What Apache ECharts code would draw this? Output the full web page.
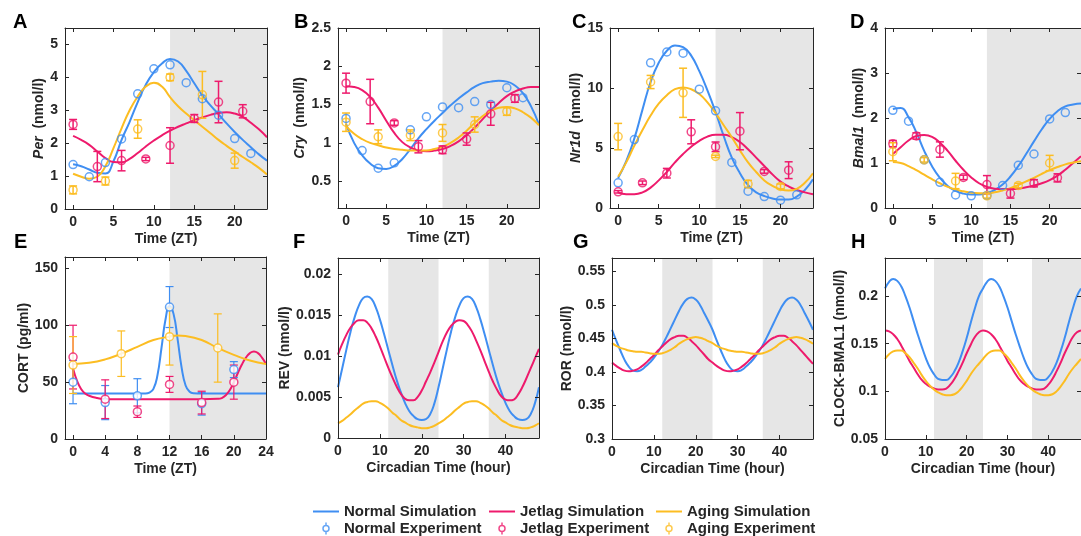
<!DOCTYPE html>
<html><head><meta charset="utf-8">
<script src="https://cdn.jsdelivr.net/npm/echarts@6/dist/echarts.min.js"></script>
<style>html,body{margin:0;padding:0;background:#fff}#chart{width:1081px;height:536px}</style>
</head><body><div id="chart"></div>
<script>
// ---------- DATA ----------
const ztHours = [0,1,2,3,4,5,6,7,8,9,10,11,12,13,14,15,16,17,18,19,20,21,22,23,24];
const ctHours = [0,1,2,3,4,5,6,7,8,9,10,11,12,13,14,15,16,17,18,19,20,21,22,23,24,25,26,27,28,29,30,31,32,33,34,35,36,37,38,39,40,41,42,43,44,45,46,47,48];

const ztTicks = [0,5,10,15,20];
const cortXTicks = [0,4,8,12,16,20,24];
const ctTicks = [0,10,20,30,40];
const perYTicks = [0,1,2,3,4,5];
const cryYTicks = [0.5,1,1.5,2,2.5];
const nr1dYTicks = [0,5,10,15];
const bmalYTicks = [0,1,2,3,4];
const cortYTicks = [0,50,100,150];
const revYTicks = [0,0.005,0.01,0.015,0.02];
const rorYTicks = [0.3,0.35,0.4,0.45,0.5,0.55];
const clockYTicks = [0.05,0.1,0.15,0.2];

// A: Per
const perNormalSim = [1.36,1.3,1.2,1.1,1.08,1.45,2.1,2.65,3.25,3.78,4.16,4.42,4.56,4.48,4.2,3.82,3.45,3.15,2.88,2.6,2.34,2.1,1.88,1.66,1.47];
const perJetlagSim = [2.22,2.1,1.95,1.75,1.55,1.43,1.42,1.52,1.7,1.9,2.08,2.24,2.38,2.5,2.6,2.7,2.78,2.86,2.92,2.94,2.9,2.8,2.62,2.42,2.18];
const perAgingSim  = [1.07,0.98,0.92,0.98,1.3,1.85,2.45,3.0,3.42,3.72,3.84,3.72,3.4,3.12,2.9,2.7,2.5,2.3,2.1,1.92,1.75,1.58,1.42,1.25,1.05];
const perNormalExp = [[0,1.35],[2,0.98],[4,1.41],[6,2.13],[8,3.5],[10,4.26],[12,4.38],[14,3.84],[16,3.35],[18,2.85],[20,2.14],[22,1.69]];
const perJetlagExp = [[0,2.57,0.15],[3,1.29,0.46],[6,1.47,0.31],[9,1.52,0.05],[12,1.93,0.54],[15,2.75,0.12],[18,3.25,0.63],[21,2.97,0.2]];
const perAgingExp  = [[0,0.58,0.12],[4,0.85,0.12],[8,2.43,0.28],[12,4.0,0.1],[16,3.47,0.71],[20,1.47,0.23]];

// B: Cry
const cryNormalSim = [1.25,1.0,0.84,0.73,0.67,0.66,0.7,0.79,0.92,1.06,1.18,1.29,1.39,1.49,1.58,1.66,1.73,1.78,1.8,1.81,1.8,1.75,1.65,1.48,1.24];
const cryJetlagSim = [1.74,1.73,1.69,1.6,1.46,1.29,1.13,1.01,0.94,0.9,0.89,0.9,0.92,0.96,1.02,1.1,1.2,1.31,1.42,1.52,1.61,1.67,1.71,1.73,1.73];
const cryAgingSim  = [1.22,1.12,1.05,1.0,0.97,0.94,0.92,0.91,0.9,0.9,0.9,0.92,0.95,1.0,1.07,1.16,1.26,1.35,1.42,1.46,1.47,1.45,1.4,1.33,1.23];
const cryNormalExp = [[0,1.32],[2,0.9],[4,0.67],[6,0.74],[8,1.17],[10,1.34],[12,1.47],[14,1.46],[16,1.54],[18,1.5],[20,1.72],[22,1.59]];
const cryJetlagExp = [[0,1.78,0.13],[3,1.54,0.29],[6,1.26,0.03],[9,0.95,0.08],[12,0.91,0.05],[15,1.05,0.08],[18,1.38,0.15],[21,1.58,0.05]];
const cryAgingExp  = [[0,1.27,0.12],[4,1.08,0.09],[8,1.1,0.07],[12,1.13,0.11],[16,1.24,0.1],[20,1.41,0.05]];

// C: Nr1d
const nr1dNormalSim = [2.5,3.9,5.8,8.2,10.5,12.1,13.1,13.55,13.4,12.7,11.4,9.8,8.0,6.0,4.2,2.9,1.9,1.3,1.0,0.8,0.7,0.7,0.95,1.5,2.4];
const nr1dJetlagSim = [1.3,1.15,1.15,1.3,1.7,2.3,3.0,3.8,4.5,5.1,5.6,5.95,6.1,6.1,5.9,5.5,4.9,4.2,3.5,2.8,2.2,1.8,1.5,1.3,1.15];
const nr1dAgingSim  = [2.6,3.8,5.2,6.5,7.7,8.7,9.4,9.9,10.05,9.9,9.5,8.8,7.9,6.9,5.9,4.8,3.8,3.0,2.3,1.85,1.55,1.45,1.6,2.1,2.9];
const nr1dNormalExp = [[0,2.1],[2,5.7],[4,12.1],[6,13.0],[8,12.9],[10,9.9],[12,8.1],[14,3.8],[16,1.4],[18,0.95],[20,0.65],[22,1.1]];
const nr1dJetlagExp = [[0,1.35,0.1],[3,2.1,0.15],[6,2.9,0.4],[9,6.35,1.0],[12,5.1,0.4],[15,6.4,1.55],[18,3.05,0.15],[21,3.15,0.7]];
const nr1dAgingExp  = [[0,5.95,1.1],[4,10.5,0.55],[8,9.6,2.05],[12,4.3,0.1],[16,2.0,0.3],[20,1.8,0.2]];

// D: Bmal1
const bmalNormalSim = [2.2,2.22,2.02,1.68,1.27,0.93,0.67,0.49,0.38,0.32,0.3,0.3,0.33,0.4,0.52,0.7,0.93,1.2,1.48,1.75,1.98,2.15,2.26,2.3,2.32];
const bmalJetlagSim = [1.2,1.35,1.5,1.6,1.62,1.58,1.45,1.27,1.05,0.85,0.68,0.55,0.47,0.43,0.42,0.42,0.43,0.46,0.5,0.55,0.62,0.72,0.85,1.0,1.15];
const bmalAgingSim  = [1.02,1.0,0.93,0.84,0.74,0.64,0.55,0.47,0.41,0.37,0.34,0.33,0.33,0.35,0.39,0.44,0.51,0.59,0.67,0.76,0.84,0.91,0.97,1.01,1.04];
const bmalNormalExp = [[0,2.17],[2,1.93],[4,1.07],[6,0.57],[8,0.29],[10,0.27],[12,0.28],[14,0.5],[16,0.95],[18,1.2],[20,1.98],[22,2.12]];
const bmalJetlagExp = [[0,1.43,0.07],[3,1.6,0.07],[6,1.3,0.17],[9,0.68,0.05],[12,0.52,0.2],[15,0.32,0.1],[18,0.55,0.08],[21,0.67,0.09]];
const bmalAgingExp  = [[0,1.25,0.2],[4,1.07,0.05],[8,0.6,0.17],[12,0.27,0.05],[16,0.5,0.05],[20,1.0,0.17]];

// E: CORT
const cortNormalSim = [[0,40],[4,40],[8,40],[9,40],[9.5,40.8],[10,44],[10.5,56],[11,80],[11.5,105],[12,117],[12.5,110],[13,88],[13.5,63],[14,47],[14.5,41.5],[15,40.2],[16,40],[20,40],[24,40]];
const cortJetlagSim = [[0,62],[0.5,51],[1,44],[1.5,40],[2,38],[3,36],[4,35],[8,35],[12,35],[16,35],[18,35.3],[18.5,36],[19,38.5],[19.5,43],[20,50],[20.5,58],[21,65.5],[21.5,71.5],[22,75.5],[22.5,77],[23,75.5],[23.5,71.5],[24,66]];
const cortAgingSim  = [[0,66],[2,67],[4,70],[6,75],[8,81],[10,87],[12,90],[13,91],[14,90.5],[16,87],[18,80],[20,74],[22,69],[24,66]];
const cortNormalExp = [[0,50,19],[4,32,15],[8,38,15],[12,116,18],[16,31,10],[20,61,7]];
const cortJetlagExp = [[0,72,28],[4,35,17],[8,24,5],[12,48,7],[16,32,10],[20,50,15]];
const cortAgingExp  = [[0,65,25],[6,75,20],[12,90,25],[18,80,30]];

// F: REV
const revNormalSim = [0.0062,0.0085,0.0108,0.013,0.0148,0.0162,0.0171,0.0173,0.017,0.016,0.0145,0.0127,0.0108,0.0089,0.0071,0.0056,0.0043,0.0033,0.0027,0.0023,0.0022,0.0023,0.0029,0.0042,0.0062,
  0.0085,0.0108,0.013,0.0148,0.0162,0.0171,0.0173,0.017,0.016,0.0145,0.0127,0.0108,0.0089,0.0071,0.0056,0.0043,0.0033,0.0027,0.0023,0.0022,0.0023,0.0029,0.0042,0.0062];
const revJetlagSim = [0.0102,0.0115,0.0126,0.0135,0.0141,0.0144,0.0144,0.0141,0.0134,0.0124,0.0112,0.0099,0.0086,0.0074,0.0063,0.0054,0.0048,0.0046,0.0046,0.005,0.0058,0.0069,0.008,0.0092,0.0105,
  0.0118,0.0129,0.0137,0.0142,0.0144,0.0143,0.0138,0.013,0.0119,0.0107,0.0094,0.0081,0.0069,0.0059,0.0051,0.0047,0.0046,0.0047,0.0053,0.0062,0.0073,0.0085,0.0097,0.0109];
const revAgingSim = [0.0018,0.0021,0.0025,0.0029,0.0034,0.0038,0.0042,0.0044,0.0045,0.0045,0.0043,0.004,0.0036,0.0031,0.0027,0.0022,0.0019,0.0016,0.0014,0.0013,0.0012,0.0012,0.0013,0.0015,0.0018,
  0.0021,0.0025,0.0029,0.0034,0.0038,0.0042,0.0044,0.0045,0.0045,0.0043,0.004,0.0036,0.0031,0.0027,0.0022,0.0019,0.0016,0.0014,0.0013,0.0012,0.0012,0.0013,0.0015,0.0018];

// G: ROR
const rorNormalSim = [0.463,0.447,0.432,0.418,0.408,0.402,0.401,0.403,0.408,0.414,0.421,0.43,0.44,0.452,0.465,0.478,0.491,0.502,0.509,0.511,0.508,0.5,0.488,0.476,0.463,
  0.447,0.432,0.418,0.408,0.402,0.401,0.403,0.408,0.414,0.421,0.43,0.44,0.452,0.465,0.478,0.491,0.502,0.509,0.511,0.508,0.5,0.488,0.476,0.463];
const rorJetlagSim = [0.414,0.409,0.405,0.402,0.401,0.402,0.404,0.408,0.413,0.419,0.425,0.432,0.438,0.444,0.449,0.452,0.454,0.454,0.451,0.446,0.44,0.433,0.426,0.419,0.414,
  0.409,0.405,0.402,0.401,0.402,0.404,0.408,0.413,0.419,0.425,0.432,0.438,0.444,0.449,0.452,0.454,0.454,0.451,0.446,0.44,0.433,0.426,0.419,0.412];
const rorAgingSim = [0.443,0.439,0.436,0.434,0.432,0.431,0.43,0.43,0.429,0.428,0.427,0.427,0.428,0.43,0.433,0.437,0.442,0.446,0.449,0.451,0.452,0.451,0.449,0.446,0.443,
  0.439,0.436,0.434,0.432,0.431,0.43,0.43,0.429,0.428,0.427,0.427,0.428,0.43,0.433,0.437,0.442,0.446,0.449,0.451,0.452,0.451,0.449,0.446,0.442];

// H: CLOCK-BMAL1
const clockNormalSim = [0.208,0.215,0.218,0.216,0.21,0.2,0.188,0.174,0.16,0.147,0.135,0.125,0.118,0.113,0.112,0.112,0.115,0.121,0.13,0.142,0.156,0.172,0.187,0.2,0.208,
  0.215,0.218,0.216,0.21,0.2,0.188,0.174,0.16,0.147,0.135,0.125,0.118,0.113,0.112,0.112,0.115,0.121,0.13,0.142,0.156,0.172,0.187,0.2,0.208];
const clockJetlagSim = [0.164,0.163,0.16,0.155,0.148,0.14,0.132,0.125,0.118,0.112,0.108,0.105,0.103,0.102,0.102,0.103,0.107,0.113,0.121,0.13,0.14,0.149,0.157,0.162,0.164,
  0.163,0.16,0.155,0.148,0.14,0.132,0.125,0.118,0.112,0.108,0.105,0.103,0.102,0.102,0.103,0.107,0.113,0.121,0.13,0.14,0.149,0.157,0.162,0.164];
const clockAgingSim = [0.134,0.139,0.142,0.143,0.143,0.14,0.136,0.13,0.124,0.117,0.111,0.106,0.102,0.099,0.097,0.096,0.096,0.097,0.1,0.105,0.111,0.118,0.124,0.129,0.134,
  0.139,0.142,0.143,0.143,0.14,0.136,0.13,0.124,0.117,0.111,0.106,0.102,0.099,0.097,0.096,0.096,0.097,0.1,0.105,0.111,0.118,0.124,0.129,0.134];

const darkPhaseDay = [[12,24]];
const darkPhaseTwoDays = [[12,24],[36,48]];

// ---------- STYLE / LAYOUT ----------
const FONT = '"Liberation Sans", Arial, Helvetica, sans-serif';
const INK = '#262626';
const COL = {Normal:'#3F8EF2', Jetlag:'#EE1A6C', Aging:'#FCBD22'};
const GROUPS = ['Normal','Jetlag','Aging'];

const pair = (xs, ys) => xs.map((x,k) => [x, ys[k]]);

const panels = [
  {L:'A', lx:13, ly:12, grid:{left:65, top:28, width:202, height:181}, xr:[-1,24], yr:[0,5.5], xt:ztTicks, yt:perYTicks, xName:'Time (ZT)', yName:'{i|Per}{n|  (nmol/l)}', yGap:16, shade:darkPhaseDay,
   sims:[pair(ztHours,perNormalSim),pair(ztHours,perJetlagSim),pair(ztHours,perAgingSim)], exps:[perNormalExp,perJetlagExp,perAgingExp]},
  {L:'B', lx:294, ly:12, grid:{left:338, top:28, width:201, height:180}, xr:[-1,24], yr:[0.15,2.5], xt:ztTicks, yt:cryYTicks, xName:'Time (ZT)', yName:'{i|Cry}{n|  (nmol/l)}', yGap:27, shade:darkPhaseDay,
   sims:[pair(ztHours,cryNormalSim),pair(ztHours,cryJetlagSim),pair(ztHours,cryAgingSim)], exps:[cryNormalExp,cryJetlagExp,cryAgingExp]},
  {L:'C', lx:572, ly:12, grid:{left:610, top:28, width:203, height:180}, xr:[-1,24], yr:[0,15], xt:ztTicks, yt:nr1dYTicks, xName:'Time (ZT)', yName:'{i|Nr1d}{n|  (nmol/l)}', yGap:21, shade:darkPhaseDay,
   sims:[pair(ztHours,nr1dNormalSim),pair(ztHours,nr1dJetlagSim),pair(ztHours,nr1dAgingSim)], exps:[nr1dNormalExp,nr1dJetlagExp,nr1dAgingExp]},
  {L:'D', lx:850, ly:12, grid:{left:885, top:28, width:200, height:180}, xr:[-1,24], yr:[0,4], xt:ztTicks, yt:bmalYTicks, xName:'Time (ZT)', yName:'{i|Bmal1}{n|  (nmol/l)}', yGap:14, shade:darkPhaseDay,
   sims:[pair(ztHours,bmalNormalSim),pair(ztHours,bmalJetlagSim),pair(ztHours,bmalAgingSim)], exps:[bmalNormalExp,bmalJetlagExp,bmalAgingExp]},
  {L:'E', lx:14, ly:232, grid:{left:65, top:257, width:201, height:182}, xr:[-1,24], yr:[0,160], xt:cortXTicks, yt:cortYTicks, xName:'Time (ZT)', yName:'{n|CORT (pg/ml)}', yGap:29, shade:darkPhaseDay, whiteFill:true,
   sims:[cortNormalSim,cortJetlagSim,cortAgingSim], exps:[cortNormalExp,cortJetlagExp,cortAgingExp]},
  {L:'F', lx:293, ly:232, grid:{left:338, top:258, width:201, height:180}, xr:[0,48], yr:[0,0.022], xt:ctTicks, yt:revYTicks, xName:'Circadian Time (hour)', yName:'{n|REV (nmol/l)}', yGap:42, shade:darkPhaseTwoDays,
   sims:[pair(ctHours,revNormalSim),pair(ctHours,revJetlagSim),pair(ctHours,revAgingSim)], exps:[]},
  {L:'G', lx:573, ly:232, grid:{left:612, top:258, width:201, height:181}, xr:[0,48], yr:[0.3,0.57], xt:ctTicks, yt:rorYTicks, xName:'Circadian Time (hour)', yName:'{n|ROR (nmol/l)}', yGap:35, shade:darkPhaseTwoDays,
   sims:[pair(ctHours,rorNormalSim),pair(ctHours,rorJetlagSim),pair(ctHours,rorAgingSim)], exps:[]},
  {L:'H', lx:851, ly:232, grid:{left:885, top:258, width:201, height:181}, xr:[0,48], yr:[0.05,0.24], xt:ctTicks, yt:clockYTicks, xName:'Circadian Time (hour)', yName:'{n|CLOCK-BMAL1 (nmol/l)}', yGap:33, shade:darkPhaseTwoDays,
   sims:[pair(ctHours,clockNormalSim),pair(ctHours,clockJetlagSim),pair(ctHours,clockAgingSim)], exps:[]}
];

const txt = (extra) => Object.assign({color:INK, fontFamily:FONT, fontWeight:'bold', fontSize:14}, extra || {});

function errRender(params, api) {
  const x = api.value(0), lo = api.value(1), hi = api.value(2);
  const a = api.coord([x, lo]), b = api.coord([x, hi]);
  const w = 4;
  const style = {stroke: api.visual('color'), lineWidth: params.seriesName.indexOf('cort') === 0 ? 1.2 : 1.5};
  return {type:'group', children:[
    {type:'line', shape:{x1:a[0], y1:a[1], x2:b[0], y2:b[1]}, style},
    {type:'line', shape:{x1:a[0]-w, y1:a[1], x2:a[0]+w, y2:a[1]}, style},
    {type:'line', shape:{x1:b[0]-w, y1:b[1], x2:b[0]+w, y2:b[1]}, style}
  ]};
}

const grids = [], xAxes = [], yAxes = [], series = [], graphics = [];
const axisLine = {show:true, onZero:false, lineStyle:{color:INK, width:1}};

panels.forEach((p, i) => {
  grids.push(Object.assign({containLabel:false}, p.grid));
  const tick = (vals) => ({show:true, inside:true, length:4, customValues:vals, lineStyle:{color:INK, width:1}});
  xAxes.push({gridIndex:i, type:'value', position:'bottom', min:p.xr[0], max:p.xr[1], z:5,
    axisLine, axisTick:tick(p.xt), splitLine:{show:false},
    axisLabel:Object.assign({customValues:p.xt, margin:6}, txt()),
    name:p.xName, nameLocation:'middle', nameGap:23, nameTextStyle:txt()});
  xAxes.push({gridIndex:i, type:'value', position:'top', min:p.xr[0], max:p.xr[1], z:5,
    axisLine, axisTick:tick(p.xt), splitLine:{show:false}, axisLabel:{show:false}});
  yAxes.push({gridIndex:i, type:'value', position:'left', min:p.yr[0], max:p.yr[1], z:5,
    axisLine, axisTick:tick(p.yt), splitLine:{show:false},
    axisLabel:Object.assign({customValues:p.yt, margin:7}, txt()),
    name:p.yName, nameLocation:'middle', nameGap:p.yGap,
    nameTextStyle:txt({rich:{i:txt({fontStyle:'italic'}), n:txt()}})});
  yAxes.push({gridIndex:i, type:'value', position:'right', min:p.yr[0], max:p.yr[1], z:5,
    axisLine, axisTick:tick(p.yt), splitLine:{show:false}, axisLabel:{show:false}});

  const xi = 2*i, yi = 2*i;
  series.push({type:'line', name:'shade'+i, xAxisIndex:xi, yAxisIndex:yi, data:[], z:1, silent:true,
    markArea:{silent:true, itemStyle:{color:'#E6E6E6'}, data:p.shade.map(s => [{xAxis:s[0]}, {xAxis:s[1]}])}});

  p.sims.forEach((d, g) => {
    const c = COL[GROUPS[g]];
    series.push({type:'line', name:GROUPS[g]+' Simulation', xAxisIndex:xi, yAxisIndex:yi, data:d,
      smooth:true, symbol:'none', showSymbol:false, silent:true, z:3,
      lineStyle:{color:c, width:2}, itemStyle:{color:c}});
  });
  p.exps.forEach((d, g) => {
    const c = COL[GROUPS[g]];
    if (d.length && d[0].length === 3) {
      series.push({type:'custom', name:(p.whiteFill ? 'cort' : 'err') + GROUPS[g] + i, xAxisIndex:xi, yAxisIndex:yi,
        data:d.map(r => [r[0], r[1]-r[2], r[1]+r[2]]), encode:{x:0, y:[1,2]},
        renderItem:errRender, itemStyle:{color:c}, silent:true, z:4});
    }
    series.push({type:'scatter', name:GROUPS[g]+' Experiment', xAxisIndex:xi, yAxisIndex:yi,
      data:d.map(r => [r[0], r[1]]), symbol:'circle', symbolSize:8, silent:true, z:4,
      itemStyle:{color:p.whiteFill ? '#ffffff' : 'transparent', borderColor:c, borderWidth:1.5}});
  });

  graphics.push({type:'text', left:p.lx, top:p.ly, style:{text:p.L, font:'bold 20px ' + FONT, fill:'#000'}});
});

const EXP_ICON = 'path://M3,0L3,3M6,6A3,3,0,1,1,0,6A3,3,0,1,1,6,6M3,9L3,12';
const LINE_ICON = 'path://M0,5L26,5L26,7L0,7Z';
const legendCol = (left, g) => ({
  left, top:504, orient:'vertical', padding:0, itemWidth:26, itemHeight:12, itemGap:2, height:32,
  selectedMode:false,
  textStyle:txt({fontSize:15, lineHeight:15}),
  data:[{name:g+' Simulation', icon:LINE_ICON, itemStyle:{color:COL[g], borderWidth:0}},
        {name:g+' Experiment', icon:EXP_ICON, itemStyle:{color:'transparent', borderColor:COL[g], borderWidth:1.5}}]
});

const chart = echarts.init(document.getElementById('chart'), null, {renderer:'canvas'});
chart.setOption({
  animation:false,
  backgroundColor:'#ffffff',
  grid:grids, xAxis:xAxes, yAxis:yAxes, series,
  legend:[legendCol(313,'Normal'), legendCol(489,'Jetlag'), legendCol(656,'Aging')],
  graphic:graphics
});
</script></body></html>
